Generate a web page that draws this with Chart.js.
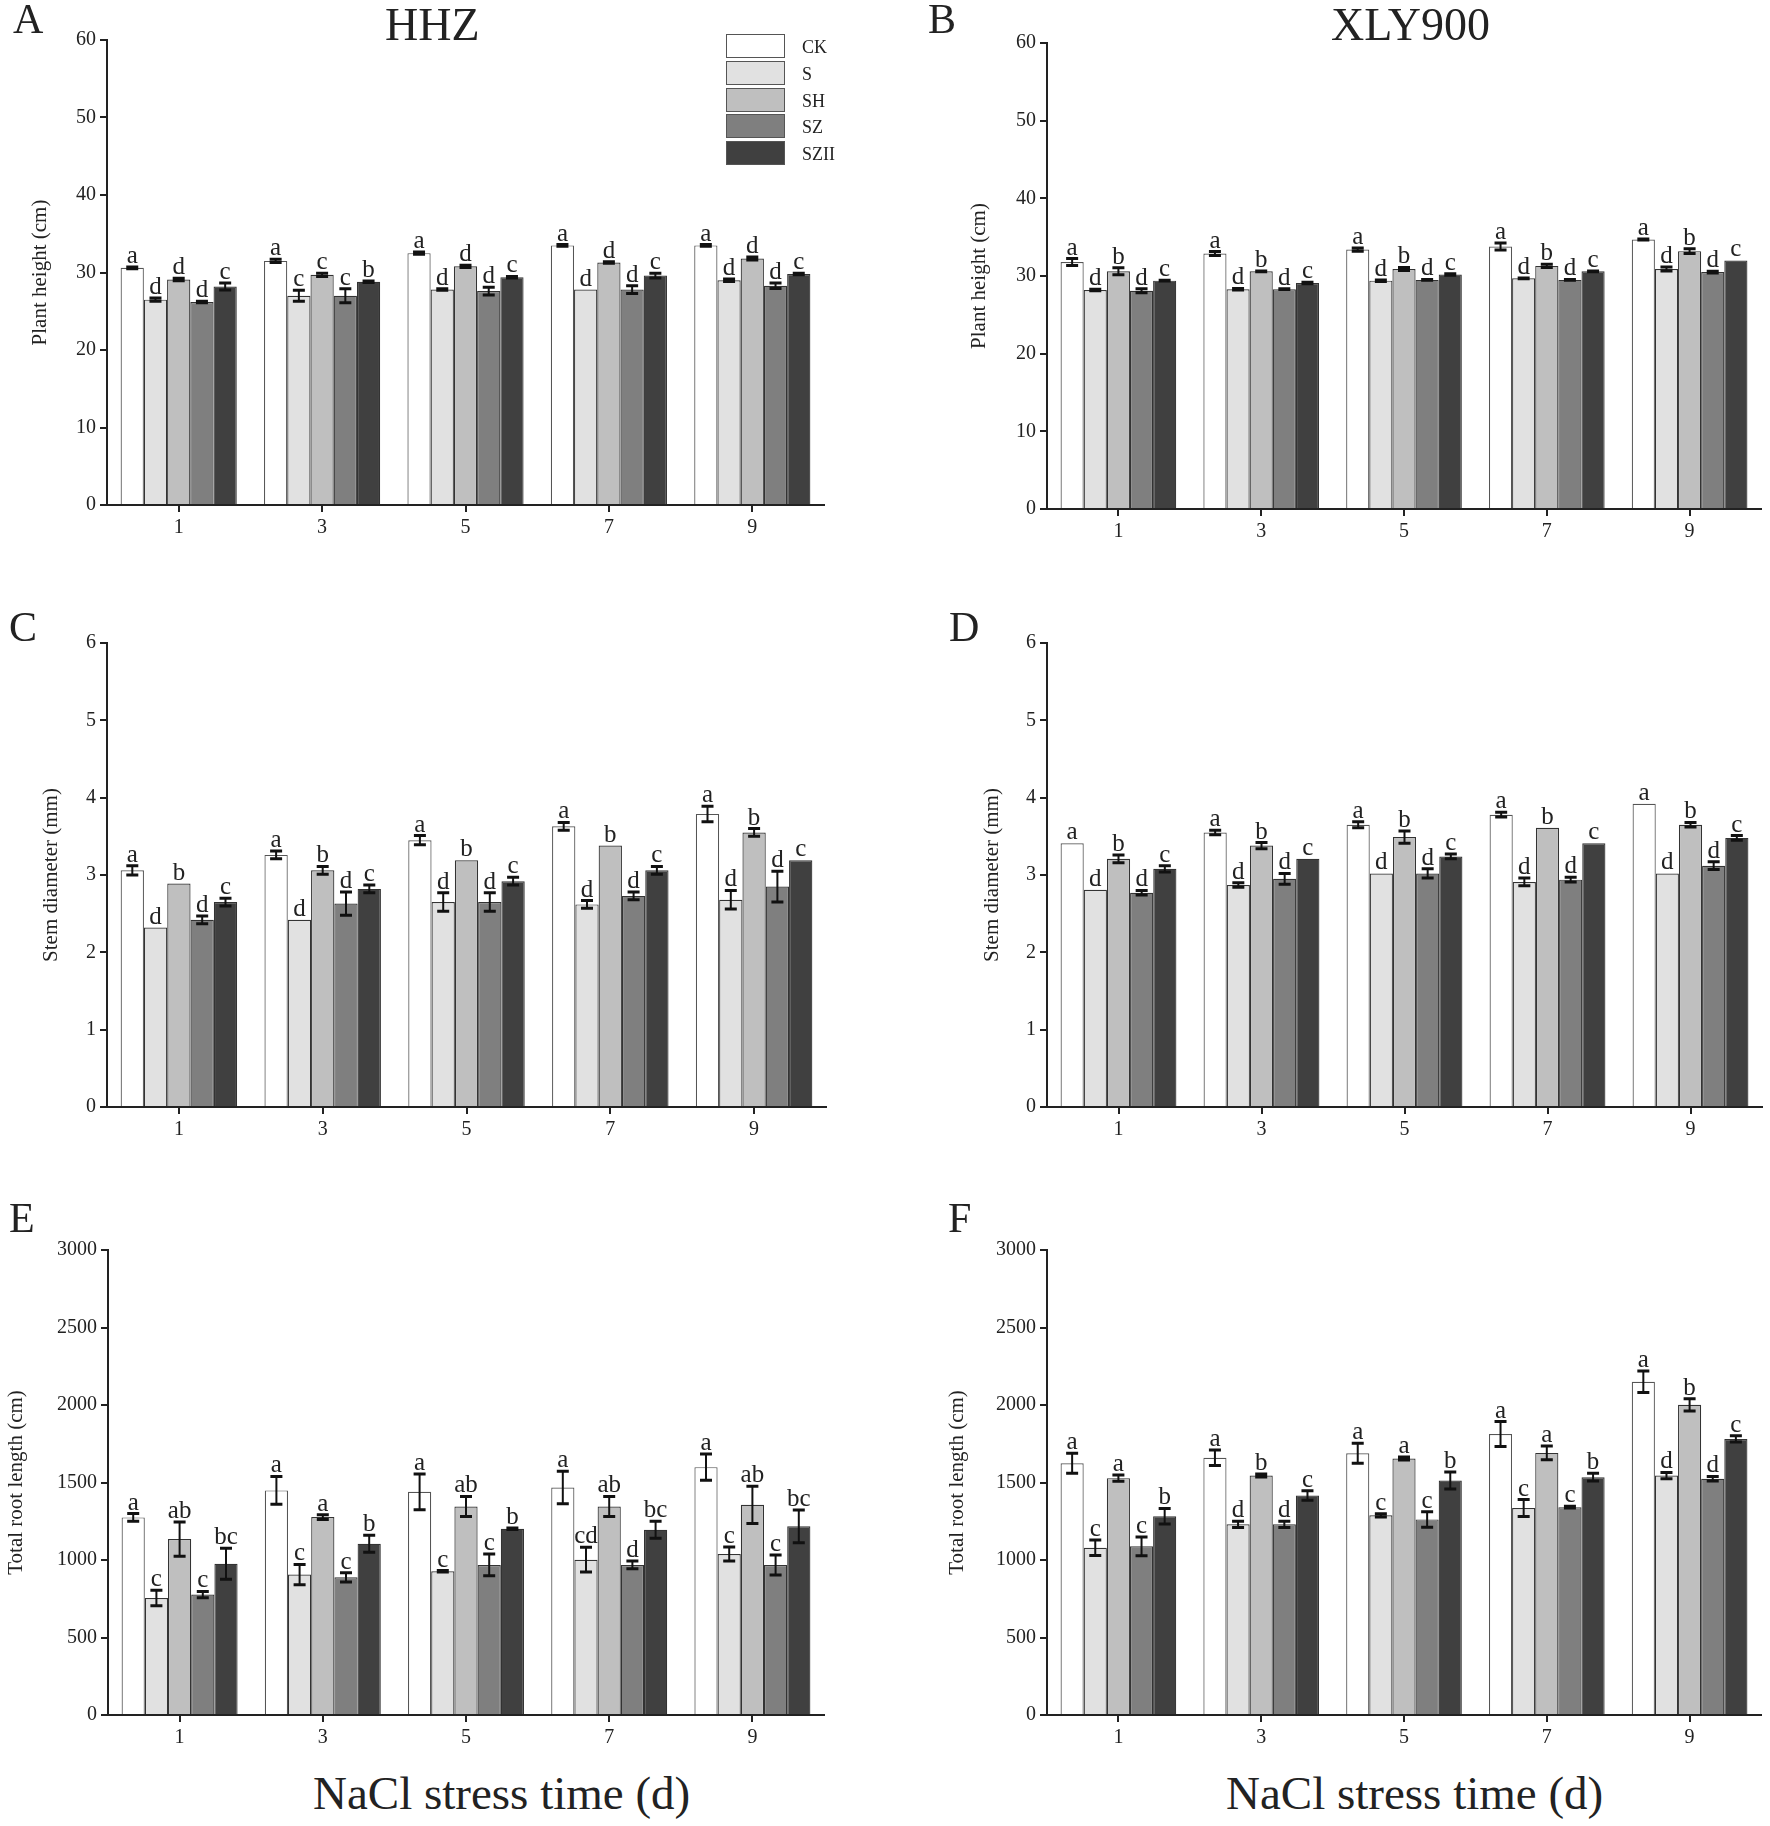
<!DOCTYPE html>
<html>
<head>
<meta charset="utf-8">
<script src="https://cdn.jsdelivr.net/npm/chart.js@4.4.0/dist/chart.umd.min.js"></script>
<style>
  body { margin: 0; background: #fff; }
  #page { position: relative; width: 1770px; height: 1826px; background: #fff;
          font-family: "Liberation Serif", "Times New Roman", serif; color: #222; }
  .panel { position: absolute; }
  .txt { position: absolute; white-space: nowrap; line-height: 1; }
  .key { position: absolute; width: 57px; height: 22px; border: 1.5px solid #555; }
</style>
</head>
<body>
<div id="page">
  <div class="panel" style="left:0;top:0"><canvas id="chartA" width="885" height="560"></canvas></div>
  <div class="panel" style="left:940px;top:0"><canvas id="chartB" width="830" height="560"></canvas></div>
  <div class="panel" style="left:0;top:560px"><canvas id="chartC" width="885" height="590"></canvas></div>
  <div class="panel" style="left:940px;top:560px"><canvas id="chartD" width="830" height="590"></canvas></div>
  <div class="panel" style="left:0;top:1150px"><canvas id="chartE" width="885" height="610"></canvas></div>
  <div class="panel" style="left:940px;top:1150px"><canvas id="chartF" width="830" height="610"></canvas></div>

  <!-- panel letters and titles -->
  <div class="txt" style="left:13px;top:-2px;font-size:42px">A</div>
  <div class="txt" style="left:928px;top:-2px;font-size:42px">B</div>
  <div class="txt" style="left:9px;top:606px;font-size:42px">C</div>
  <div class="txt" style="left:949px;top:606px;font-size:42px">D</div>
  <div class="txt" style="left:9px;top:1197px;font-size:42px">E</div>
  <div class="txt" style="left:948px;top:1197px;font-size:42px">F</div>
  <div class="txt" style="left:385px;top:2px;font-size:46px">HHZ</div>
  <div class="txt" style="left:1331px;top:2px;font-size:46px">XLY900</div>
  <div class="txt" style="left:313px;top:1770px;font-size:47px">NaCl stress time (d)</div>
  <div class="txt" style="left:1226px;top:1770px;font-size:47px">NaCl stress time (d)</div>

  <!-- legend -->
  <div id="legend"></div>
</div>

<script>
// categories and groups
const days = ["1", "3", "5", "7", "9"];
const groups = ["CK", "S", "SH", "SZ", "SZII"];
const groupColors = ["#ffffff", "#e1e1e1", "#bfbfbf", "#7f7f7f", "#404040"];

// Plant height, HHZ (rows = groups, cols = days)
const heightHHZ = [
  [30.6, 31.5, 32.5, 33.5, 33.5],
  [26.5, 27.0, 27.8, 27.8, 29.0],
  [29.1, 29.7, 30.8, 31.3, 31.8],
  [26.2, 27.0, 27.6, 27.8, 28.3],
  [28.2, 28.8, 29.4, 29.6, 29.8]
];
const heightHHZErr = [
  [0.1, 0.2, 0.15, 0.1, 0.1],
  [0.2, 0.7, 0.1, 0, 0.15],
  [0.15, 0.2, 0.15, 0.1, 0.2],
  [0.1, 0.9, 0.5, 0.5, 0.35],
  [0.45, 0.1, 0.1, 0.3, 0.1]
];
const heightHHZSig = [
  ["a", "a", "a", "a", "a"],
  ["d", "c", "d", "d", "d"],
  ["d", "c", "d", "d", "d"],
  ["d", "c", "d", "d", "d"],
  ["c", "b", "c", "c", "c"]
];

// Plant height, XLY900
const heightXLY = [
  [31.8, 32.9, 33.4, 33.8, 34.7],
  [28.2, 28.3, 29.4, 29.7, 30.9],
  [30.6, 30.6, 30.9, 31.3, 33.2],
  [28.1, 28.3, 29.5, 29.5, 30.5],
  [29.4, 29.1, 30.2, 30.6, 32.0]
];
const heightXLYErr = [
  [0.45, 0.25, 0.2, 0.45, 0.05],
  [0.1, 0.1, 0.1, 0.05, 0.25],
  [0.45, 0.05, 0.2, 0.2, 0.3],
  [0.25, 0.05, 0.05, 0.05, 0.1],
  [0.05, 0.1, 0.1, 0.05, 0]
];
const heightXLYSig = [
  ["a", "a", "a", "a", "a"],
  ["d", "d", "d", "d", "d"],
  ["b", "b", "b", "b", "b"],
  ["d", "d", "d", "d", "d"],
  ["c", "c", "c", "c", "c"]
];

// Stem diameter, HHZ
const stemHHZ = [
  [3.06, 3.26, 3.45, 3.63, 3.79],
  [2.32, 2.42, 2.65, 2.62, 2.68],
  [2.89, 3.06, 3.19, 3.38, 3.55],
  [2.42, 2.63, 2.65, 2.73, 2.85],
  [2.65, 2.82, 2.92, 3.06, 3.19]
];
const stemHHZErr = [
  [0.06, 0.05, 0.06, 0.05, 0.1],
  [0, 0, 0.12, 0.05, 0.12],
  [0, 0.05, 0, 0, 0.05],
  [0.05, 0.15, 0.12, 0.05, 0.2],
  [0.05, 0.05, 0.05, 0.05, 0]
];
const stemHHZSig = heightXLYSig;

// Stem diameter, XLY900
const stemXLY = [
  [3.41, 3.55, 3.65, 3.78, 3.92],
  [2.81, 2.87, 3.02, 2.91, 3.02],
  [3.21, 3.38, 3.49, 3.61, 3.65],
  [2.77, 2.95, 3.02, 2.94, 3.12],
  [3.08, 3.21, 3.24, 3.41, 3.48]
];
const stemXLYErr = [
  [0, 0.03, 0.04, 0.03, 0],
  [0, 0.03, 0, 0.05, 0],
  [0.05, 0.04, 0.08, 0, 0.03],
  [0.03, 0.07, 0.06, 0.03, 0.05],
  [0.04, 0, 0.03, 0, 0.03]
];
const stemXLYSig = heightXLYSig;

// Total root length, HHZ
const rootHHZ = [
  [1275, 1449, 1440, 1468, 1599],
  [755, 906, 927, 1002, 1039],
  [1135, 1277, 1345, 1345, 1356],
  [777, 888, 968, 968, 968],
  [976, 1105, 1202, 1195, 1217]
];
const rootHHZErr = [
  [25, 90, 115, 105, 85],
  [50, 65, 5, 80, 45],
  [110, 15, 65, 65, 120],
  [20, 30, 70, 25, 65],
  [100, 55, 5, 55, 105]
];
const rootHHZSig = [
  ["a", "a", "a", "a", "a"],
  ["c", "c", "c", "cd", "c"],
  ["ab", "a", "ab", "ab", "ab"],
  ["c", "c", "c", "d", "c"],
  ["bc", "b", "b", "bc", "bc"]
];

// Total root length, XLY900
const rootXLY = [
  [1624, 1659, 1689, 1813, 2150],
  [1079, 1230, 1288, 1335, 1545],
  [1528, 1545, 1655, 1691, 2001],
  [1088, 1230, 1262, 1341, 1524],
  [1283, 1416, 1513, 1534, 1781]
];
const rootXLYErr = [
  [65, 50, 65, 80, 70],
  [50, 20, 10, 55, 20],
  [20, 10, 10, 45, 40],
  [60, 20, 50, 5, 15],
  [50, 30, 55, 25, 20]
];
const rootXLYSig = [
  ["a", "a", "a", "a", "a"],
  ["c", "d", "c", "c", "d"],
  ["a", "b", "a", "a", "b"],
  ["c", "d", "c", "c", "d"],
  ["b", "c", "b", "b", "c"]
];

const FONT = "'Liberation Serif', 'Times New Roman', serif";

// draws the error bars and the significance letters over each bar
const errorBarPlugin = {
  id: "errorBars",
  afterDatasetsDraw(chart) {
    const ctx = chart.ctx;
    const yScale = chart.scales.y;
    ctx.save();
    chart.data.datasets.forEach((ds, i) => {
      const meta = chart.getDatasetMeta(i);
      meta.data.forEach((bar, j) => {
        const v = ds.data[j];
        const e = ds.errors[j];
        const top = yScale.getPixelForValue(v + e);
        const bot = yScale.getPixelForValue(v - e);
        if (e > 0) {
          ctx.strokeStyle = "#111";
          ctx.lineWidth = 2;
          ctx.beginPath();
          ctx.moveTo(bar.x, top);
          ctx.lineTo(bar.x, bot);
          ctx.stroke();
          ctx.lineWidth = 3;
          ctx.beginPath();
          ctx.moveTo(bar.x - 6, top);
          ctx.lineTo(bar.x + 6, top);
          ctx.moveTo(bar.x - 6, bot);
          ctx.lineTo(bar.x + 6, bot);
          ctx.stroke();
        }
        ctx.fillStyle = "#222";
        ctx.font = "25px " + FONT;
        ctx.textAlign = "center";
        ctx.textBaseline = "alphabetic";
        ctx.fillText(ds.sig[j], bar.x, top - 4);
      });
    });
    ctx.restore();
  }
};

function drawPanel(id, values, errors, sigs, cfg) {
  const ctx = document.getElementById(id).getContext("2d");
  const datasets = groups.map((g, i) => ({
    label: g,
    data: values[i],
    errors: errors[i],
    sig: sigs[i],
    backgroundColor: groupColors[i],
    borderColor: i === 0 ? "#555" : "#333",
    borderWidth: 1.2,
    categoryPercentage: 0.81,
    barPercentage: 1.0
  }));

  return new Chart(ctx, {
    type: "bar",
    data: { labels: days, datasets: datasets },
    plugins: [errorBarPlugin],
    options: {
      responsive: false,
      animation: false,
      devicePixelRatio: 1,
      layout: { padding: { top: cfg.top, right: cfg.right, left: 0, bottom: 0 } },
      plugins: { legend: { display: false }, tooltip: { enabled: false } },
      scales: {
        x: {
          afterFit: (s) => { s.height = cfg.xHeight; },
          grid: { offset: false, drawOnChartArea: false, tickLength: 7, color: "#222", lineWidth: 2 },
          border: { display: true, color: "#222", width: 2 },
          ticks: { color: "#222", font: { family: FONT, size: 20 }, padding: 4 }
        },
        y: {
          min: 0,
          max: cfg.max,
          afterFit: (s) => { s.width = cfg.yWidth; },
          grid: { drawOnChartArea: false, tickLength: 7, color: "#222", lineWidth: 2 },
          border: { display: true, color: "#222", width: 2 },
          ticks: {
            stepSize: cfg.step,
            color: "#222",
            font: { family: FONT, size: 20 },
            padding: 4,
            callback: (value) => String(value)
          },
          title: {
            display: true,
            text: cfg.title,
            color: "#222",
            font: { family: FONT, size: 21 },
            padding: { top: cfg.titlePad, bottom: 0 }
          }
        }
      }
    }
  });
}

drawPanel("chartA", heightHHZ, heightHHZErr, heightHHZSig,
  { top: 40, right: 61, xHeight: 55, yWidth: 107, max: 60, step: 10, title: "Plant height (cm)", titlePad: 28 });
drawPanel("chartB", heightXLY, heightXLYErr, heightXLYSig,
  { top: 43, right: 9, xHeight: 51, yWidth: 107, max: 60, step: 10, title: "Plant height (cm)", titlePad: 27 });
drawPanel("chartC", stemHHZ, stemHHZErr, stemHHZSig,
  { top: 83, right: 59, xHeight: 43, yWidth: 107, max: 6, step: 1, title: "Stem diameter (mm)", titlePad: 39 });
drawPanel("chartD", stemXLY, stemXLYErr, stemXLYSig,
  { top: 83, right: 8, xHeight: 43, yWidth: 107, max: 6, step: 1, title: "Stem diameter (mm)", titlePad: 40 });
drawPanel("chartE", rootHHZ, rootHHZErr, rootHHZSig,
  { top: 100, right: 61, xHeight: 45, yWidth: 108, max: 3000, step: 500, title: "Total root length (cm)", titlePad: 4 });
drawPanel("chartF", rootXLY, rootXLYErr, rootXLYSig,
  { top: 100, right: 9, xHeight: 45, yWidth: 107, max: 3000, step: 500, title: "Total root length (cm)", titlePad: 5 });

// legend in panel A, drawn as html
const legend = document.getElementById("legend");
groups.forEach((g, i) => {
  const top = 34 + i * 26.8;
  const box = document.createElement("div");
  box.className = "key";
  box.style.left = "726px";
  box.style.top = top + "px";
  box.style.background = groupColors[i];
  legend.appendChild(box);
  const label = document.createElement("div");
  label.className = "txt";
  label.style.left = "802px";
  label.style.top = (top + 4) + "px";
  label.style.fontSize = "18px";
  label.textContent = g;
  legend.appendChild(label);
});
</script>
</body>
</html>
